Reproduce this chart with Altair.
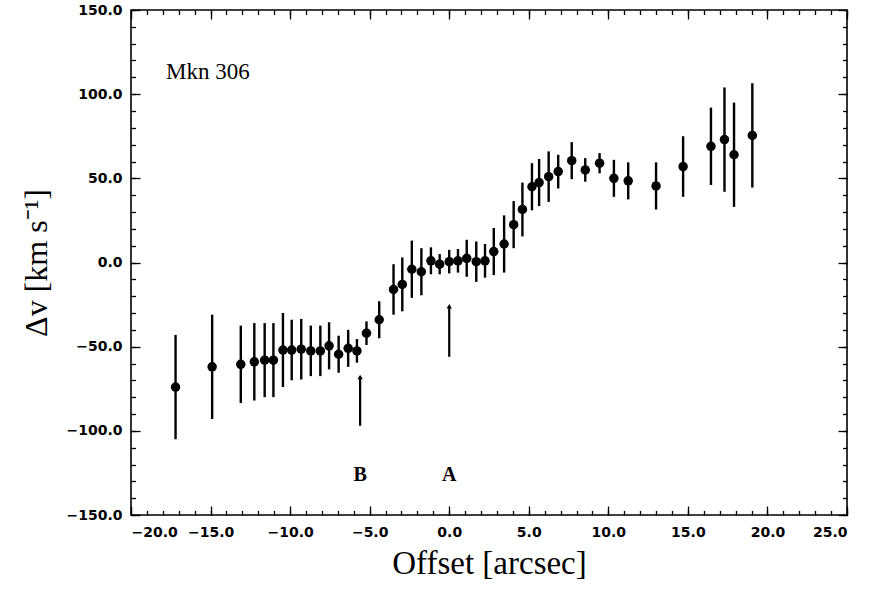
import altair as alt
import pandas as pd

# ---------------- data ----------------
offset = [-17.2, -14.9, -13.1, -12.25, -11.6, -11.05, -10.45, -9.9, -9.3, -8.7,
          -8.1, -7.55, -6.95, -6.35, -5.8, -5.2, -4.4, -3.5, -2.95, -2.35,
          -1.75, -1.15, -0.6, 0.0, 0.55, 1.1, 1.7, 2.25, 2.8, 3.45,
          4.05, 4.6, 5.2, 5.65, 6.25, 6.85, 7.7, 8.55, 9.45, 10.35,
          11.25, 13.0, 14.7, 16.45, 17.3, 17.9, 19.05]
dv = [-74, -62, -60.5, -59, -58, -58, -52, -52, -51.5, -52.5,
      -52.5, -49.5, -54.5, -51, -52.5, -42, -34, -16, -13, -4,
      -5.5, 1, -1, 0.5, 1, 2.5, 0.5, 1, 6.5, 11,
      22.5, 31.5, 45, 47.5, 51, 54, 60.5, 55, 59, 50,
      48.5, 45.5, 57, 69, 73, 64, 75.5]
err = [31, 31, 23, 23, 22, 22, 22, 18, 18, 15,
       15, 14, 11, 11, 7, 7, 11, 15, 16, 17,
       14, 8, 6, 7, 7, 11, 12, 10, 14, 17,
       14, 16, 14, 14, 15, 10, 11, 7, 6, 11,
       11, 14, 18, 23, 31, 31, 31]

arrow_x = [-5.6, 0.0]
arrow_lo = [-97.0, -56.0]
arrow_hi = [-68.0, -26.0]
mark_labels = ["B", "A"]
label_y = [-126.0, -126.0]

galaxy = ["Mkn 306"]
galaxy_x = [-17.8]
galaxy_y = [113.0]

x_major = list(range(-20, 26, 5))
x_minor = list(range(-20, 26, 1))
y_major = list(range(-150, 151, 50))
y_minor = list(range(-150, 151, 10))

W, H = 716, 505

df = pd.DataFrame({
    "x": offset,
    "y": dv,
    "lo": [v - e for v, e in zip(dv, err)],
    "hi": [v + e for v, e in zip(dv, err)],
})
arr = pd.DataFrame({"x": arrow_x, "lo": arrow_lo, "hi": arrow_hi,
                    "lab": mark_labels, "ly": label_y})
gal = pd.DataFrame({"x": galaxy_x, "y": galaxy_y, "t": galaxy})

xs = alt.Scale(domain=[-20, 25], nice=False, zero=False)
ys = alt.Scale(domain=[-150, 150], nice=False, zero=False)

main_x = alt.Axis(orient="bottom", values=x_major, format=".1f", labelFlush=True,
                  ticks=False, domain=False, grid=False, labelPadding=10,
                  labelFont="DejaVu Sans", labelFontSize=14, labelFontWeight="bold",
                  labelColor="black", title="Offset [arcsec]",
                  titleFont="Liberation Serif", titleFontSize=33,
                  titleFontWeight="normal", titleColor="black", titlePadding=8)
main_y = alt.Axis(orient="left", values=y_major, format=".1f", labelFlush=False,
                  ticks=False, domain=False, grid=False, labelPadding=9,
                  labelFont="DejaVu Sans", labelFontSize=14, labelFontWeight="bold",
                  labelColor="black", title="Δv [km s⁻¹]",
                  titleFont="Liberation Serif", titleFontSize=32,
                  titleFontWeight="normal", titleColor="black", titlePadding=12)


def tick_axis(orient, values, size, off):
    return alt.Axis(orient=orient, offset=off, values=values, tickSize=size,
                    labels=False, domain=False, grid=False, ticks=True,
                    tickColor="black", tickWidth=1.3, title=None)


points = alt.Chart(df).mark_point(filled=True, color="black", size=90, opacity=1).encode(
    x=alt.X("x:Q", scale=xs, axis=main_x),
    y=alt.Y("y:Q", scale=ys, axis=main_y),
)
bars = alt.Chart(df).mark_rule(color="black", strokeWidth=2.4).encode(
    x=alt.X("x:Q", scale=xs, axis=None),
    y=alt.Y("lo:Q", scale=ys, axis=None),
    y2="hi:Q",
)
arrow_shaft = alt.Chart(arr).mark_rule(color="black", strokeWidth=2.2).encode(
    x=alt.X("x:Q", scale=xs, axis=None),
    y=alt.Y("lo:Q", scale=ys, axis=None),
    y2="hi:Q",
)
arrow_head = alt.Chart(arr).mark_point(shape="triangle-up", filled=True, color="black",
                                       size=28, opacity=1).encode(
    x=alt.X("x:Q", scale=xs, axis=None),
    y=alt.Y("hi:Q", scale=ys, axis=None),
)
arrow_lab = alt.Chart(arr).mark_text(font="Liberation Serif", fontSize=20, fontWeight="bold",
                                     color="black", baseline="middle", align="center").encode(
    x=alt.X("x:Q", scale=xs, axis=None),
    y=alt.Y("ly:Q", scale=ys, axis=None),
    text="lab:N",
)
gal_txt = alt.Chart(gal).mark_text(font="Liberation Serif", fontSize=23, color="black",
                                   baseline="middle", align="left").encode(
    x=alt.X("x:Q", scale=xs, axis=None),
    y=alt.Y("y:Q", scale=ys, axis=None),
    text="t:N",
)


def tick_layer(xo, xv, xsz, yo, yv, ysz):
    return alt.Chart(df).mark_point(opacity=0).encode(
        x=alt.X("x:Q", scale=xs, axis=tick_axis(xo, xv, xsz, -H)),
        y=alt.Y("y:Q", scale=ys, axis=tick_axis(yo, yv, ysz, -W)),
    )


t1 = tick_layer("top", x_major, 9, "right", y_major, 9)      # bottom / left major, inward
t2 = tick_layer("top", x_minor, 4.5, "right", y_minor, 4.5)  # bottom / left minor, inward
t3 = tick_layer("bottom", x_major, 9, "left", y_major, 9)    # top / right major, inward
t4 = tick_layer("bottom", x_minor, 4.5, "left", y_minor, 4.5)

chart = alt.layer(points, bars, arrow_shaft, arrow_head, arrow_lab, gal_txt,
                  t1, t2, t3, t4).resolve_axis(
    x="independent", y="independent"
).properties(
    width=W, height=H,
    autosize=alt.AutoSizeParams(type="none"),
    padding={"left": 131, "top": 10, "right": 26, "bottom": 76},
    background="white",
).configure_view(stroke="black", strokeWidth=1.6)

chart.save("out.html", embed_options={"renderer": "svg", "actions": False})
